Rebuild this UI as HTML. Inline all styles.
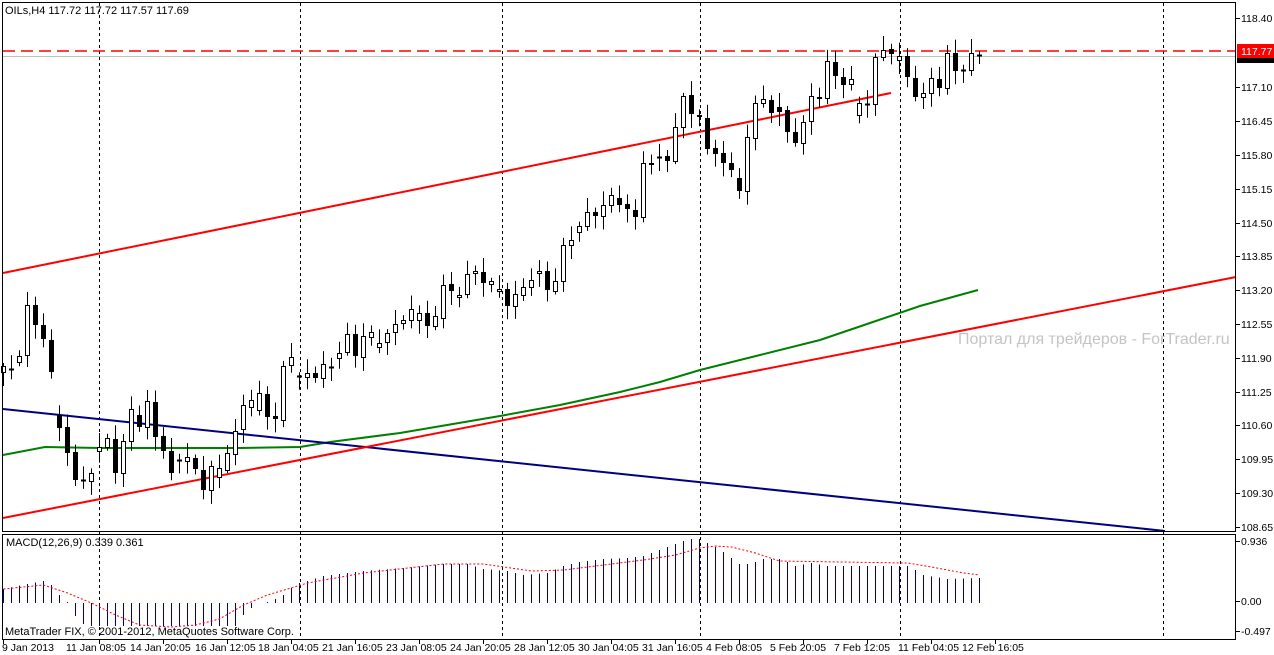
<!DOCTYPE html>
<html><head><meta charset="utf-8"><style>
html,body{margin:0;padding:0;background:#fff;}
svg{display:block;font-family:"Liberation Sans",sans-serif;}
</style></head><body>
<svg id="c" width="1274" height="655" xmlns="http://www.w3.org/2000/svg">
<rect width="1274" height="655" fill="#fff"/>
<g id="grid" stroke="#000" stroke-width="1" stroke-dasharray="3,3">
<line x1="99.5" y1="3" x2="99.5" y2="640"/><line x1="300.5" y1="3" x2="300.5" y2="640"/>
<line x1="502.5" y1="3" x2="502.5" y2="640"/><line x1="700.5" y1="3" x2="700.5" y2="640"/>
<line x1="900.5" y1="3" x2="900.5" y2="640"/><line x1="1163.5" y1="3" x2="1163.5" y2="640"/>
</g>
<line x1="3" y1="56.5" x2="1236" y2="56.5" stroke="#c0c0c0"/>
<line x1="3" y1="51" x2="1236" y2="51" stroke="#f00" stroke-width="1.5" stroke-dasharray="12,6"/>
<text x="958" y="344" font-size="16" fill="#c4c4c4">Портал для трейдеров - ForTrader.ru</text>
<polyline fill="none" stroke="#008000" stroke-width="2" points="3,455 45,447 100,448 240,448 300,447 330,442 400,433 500,416 560,405 620,392 660,382 700,370 760,355 820,340 870,323 920,306 978,290"/>
<line x1="3" y1="409" x2="1165" y2="531" stroke="#000080" stroke-width="2"/>
<line x1="3" y1="518" x2="1236" y2="277" stroke="#f00" stroke-width="2"/>
<line x1="3" y1="273" x2="891" y2="93" stroke="#f00" stroke-width="2"/>
<g id="candles"></g>
<g id="macd"></g>
<g fill="none" stroke="#000" stroke-width="1">
<rect x="2.5" y="2.5" width="1233" height="529"/>
<rect x="2.5" y="534.5" width="1233" height="105"/>
</g>
<text x="5" y="14" font-size="11" fill="#000">OILs,H4 117.72 117.72 117.57 117.69</text>
<text x="6" y="546" font-size="11" fill="#000">MACD(12,26,9) 0.339 0.361</text>
<text x="5" y="635" font-size="11" fill="#000">MetaTrader FIX, © 2001-2012, MetaQuotes Software Corp.</text>
<g font-size="10.5" fill="#000" id="pl">
<text x="1241" y="22">118.40</text>
<text x="1241" y="91">117.10</text>
<text x="1241" y="125">116.45</text>
<text x="1241" y="159">115.80</text>
<text x="1241" y="193">115.15</text>
<text x="1241" y="227">114.50</text>
<text x="1241" y="260">113.85</text>
<text x="1241" y="294">113.20</text>
<text x="1241" y="328">112.55</text>
<text x="1241" y="362">111.90</text>
<text x="1241" y="396">111.25</text>
<text x="1241" y="429">110.60</text>
<text x="1241" y="463">109.95</text>
<text x="1241" y="497">109.30</text>
<text x="1241" y="531">108.65</text>
<text x="1241" y="545">0.936</text>
<text x="1241" y="605">0.00</text>
<text x="1241" y="635">-0.497</text>
</g>
<g stroke="#000" id="pt"></g>
<rect x="1237" y="56" width="37" height="7" fill="#000"/>
<rect x="1237" y="44" width="37" height="14" fill="#f00"/>
<text x="1241" y="55" font-size="10.5" fill="#fff">117.77</text>
<g font-size="10.5" fill="#000">
<text x="2" y="651">9 Jan 2013</text>
<text x="66" y="651">11 Jan 08:05</text>
<text x="130" y="651">14 Jan 20:05</text>
<text x="195" y="651">16 Jan 12:05</text>
<text x="258" y="651">18 Jan 04:05</text>
<text x="322" y="651">21 Jan 16:05</text>
<text x="386" y="651">23 Jan 08:05</text>
<text x="450" y="651">24 Jan 20:05</text>
<text x="514" y="651">28 Jan 12:05</text>
<text x="578" y="651">30 Jan 04:05</text>
<text x="642" y="651">31 Jan 16:05</text>
<text x="706" y="651">4 Feb 08:05</text>
<text x="770" y="651">5 Feb 20:05</text>
<text x="834" y="651">7 Feb 12:05</text>
<text x="898" y="651">11 Feb 04:05</text>
<text x="962" y="651">12 Feb 16:05</text>
</g>
</svg>
<script>
var NS="http://www.w3.org/2000/svg";
function el(p,t,a){var e=document.createElementNS(NS,t);for(var k in a)e.setAttribute(k,a[k]);p.appendChild(e);return e;}
var C=[[372,366],[369,369],[362,356],[355,305],[305,325],[325,339],[340,372],[415,428],[427,453],[452,480],[480,480],[481,473],[451,447],[447,438],[439,473],[473,441],[441,409],[415,427],[427,401],[402,437],[436,451],[451,473],[460,460],[461,457],[458,469],[470,490],[490,466],[477,468],[470,453],[454,431],[429,405],[407,400],[410,393],[394,417],[416,419],[420,366],[365,357],[376,376],[377,373],[373,378],[378,364],[367,367],[358,353],[352,334],[334,356],[357,336],[337,332],[347,343],[342,333],[332,324],[323,320],[320,309],[320,313],[313,326],[326,316],[318,285],[284,291],[297,295],[294,274],[273,271],[272,283],[284,281],[291,289],[289,306],[306,294],[295,287],[287,280],[273,271],[271,290],[291,281],[281,245],[245,240],[232,226],[226,212],[212,216],[216,205],[205,195],[198,205],[204,209],[210,217],[217,163],[163,165],[157,157],[156,161],[161,127],[127,96],[95,114],[115,117],[118,149],[148,154],[153,163],[163,170],[178,191],[191,137],[138,103],[103,99],[100,113],[107,112],[110,132],[132,143],[143,122],[121,96],[97,99],[98,61],[62,76],[77,85],[84,79],[115,103],[104,104],[104,57],[57,50],[49,54],[60,56],[56,77],[78,97],[97,93],[93,78],[79,88],[88,53],[53,71],[70,70],[70,53],[55,55]];
var g=document.getElementById("candles");
C.forEach(function(c,k){
 var x=3+8*k,o=c[0],cl=c[1],t=Math.min(o,cl),b=Math.max(o,cl);
 var ht=t-(3+Math.abs(Math.sin(k*1.7))*11),hb=b+(3+Math.abs(Math.cos(k*2.3))*11);
 el(g,"line",{x1:x+.5,y1:ht,x2:x+.5,y2:hb,stroke:"#000"});
 if(b-t<1){el(g,"line",{x1:x-2,y1:t+.5,x2:x+3,y2:t+.5,stroke:"#000","stroke-width":2});}
 else if(cl<o){el(g,"rect",{x:x-1.5,y:t+.5,width:4,height:b-t,fill:"#fff",stroke:"#000"});}
 else{el(g,"rect",{x:x-2,y:t,width:5,height:Math.max(b-t,2),fill:"#000"});}
});
function interp(pts,k){for(var i=0;i<pts.length-1;i++){var a=pts[i],b=pts[i+1];if(k>=a[0]&&k<=b[0])return a[1]+(b[1]-a[1])*(k-a[0])/(b[0]-a[0]);}return pts[pts.length-1][1];}
var H=[[0,-14],[3,-19],[5,-22],[6,-18],[7,-8],[8,-1],[9,13],[10,21],[11,23],[29,23],[30,12],[31,5],[32,0],[33,-1],[34,-4],[35,-8],[36,-15],[37,-20],[38,-22],[40,-27],[45,-32],[50,-35],[55,-39],[58,-39],[60,-34],[63,-32],[65,-28],[68,-30],[70,-37],[72,-41],[75,-44],[78,-45],[80,-47],[85,-62],[86,-64],[87,-64],[88,-60],[89,-56],[90,-51],[91,-45],[92,-39],[93,-39],[94,-41],[95,-44],[97,-44],[98,-41],[99,-37],[101,-40],[103,-37],[113,-37],[114,-33],[115,-28],[118,-24],[122,-25]];
var S=[[0,-14],[5,-18],[8,-10],[11,0],[14,12],[17,22],[21,24],[24,22],[27,16],[30,2],[33,-8],[38,-20],[45,-30],[55,-39],[60,-39],[66,-32],[70,-33],[75,-38],[80,-43],[84,-48],[87,-55],[89,-57],[91,-56],[94,-50],[97,-42],[105,-41],[113,-40],[116,-36],[120,-30],[122,-28]];
var m=document.getElementById("macd"),Z=603,pts=[];
for(var k=0;k<=122;k++){var x=3+8*k+.5,h=interp(H,k);
 if(Math.abs(h)>=1)el(m,"line",{x1:x,y1:Z,x2:x,y2:Z+h,stroke:"#000080","stroke-width":1});
 pts.push(x+","+(Z+interp(S,k)).toFixed(1));}
el(m,"polyline",{points:pts.join(" "),fill:"none",stroke:"#f00","stroke-dasharray":"2,2"});
var pt=document.getElementById("pt");
[18,87,121,155,189,223,256,290,324,358,392,425,459,493,527,541,601,631].forEach(function(y){el(pt,"line",{x1:1236,y1:y+.5,x2:1240,y2:y+.5});});
[3,99,163,227,291,355,419,483,547,611,675,739,803,867,931,995].forEach(function(x){el(pt,"line",{x1:x+.5,y1:640,x2:x+.5,y2:644});});
</script>
</body></html>
